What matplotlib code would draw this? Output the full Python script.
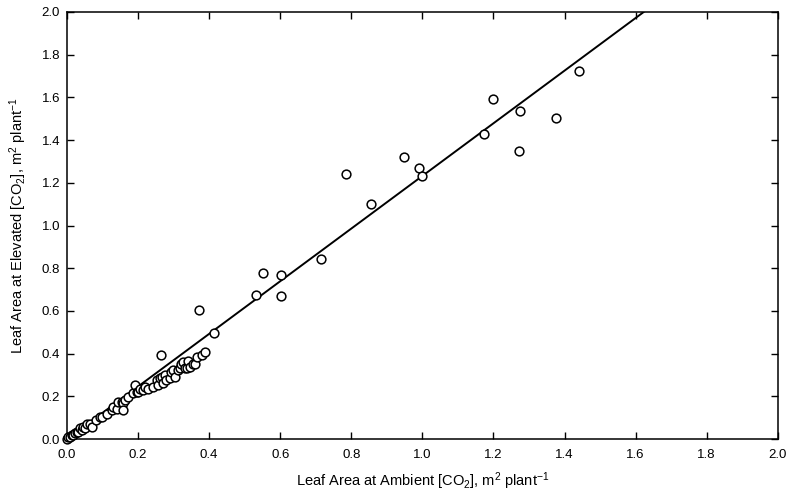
import matplotlib
matplotlib.use("Agg")
import matplotlib.pyplot as plt
import numpy as np

plt.rcParams.update(
    {
        "font.family": ["Liberation Sans", "DejaVu Sans"],
        "font.size": 9,
        "mathtext.default": "regular",
    }
)

# leaf area, ambient vs elevated CO2 (m2 per plant)
ambient = [
    0.000, 0.004, 0.008, 0.013, 0.018, 0.023, 0.027, 0.032, 0.037, 0.041,
    0.046, 0.051, 0.055, 0.065, 0.069, 0.083, 0.093, 0.098, 0.112, 0.126,
    0.130, 0.140, 0.144, 0.154, 0.158, 0.158, 0.163, 0.172, 0.187, 0.191,
    0.196, 0.201, 0.205, 0.215, 0.219, 0.229, 0.243, 0.252, 0.257, 0.262,
    0.266, 0.271, 0.276, 0.280, 0.290, 0.294, 0.299, 0.304, 0.313, 0.318,
    0.322, 0.327, 0.332, 0.337, 0.341, 0.346, 0.355, 0.360, 0.365, 0.379,
    0.388, 0.264, 0.371, 0.413, 0.532, 0.551, 0.602, 0.602, 0.714, 0.785,
    0.855, 0.948, 0.990, 0.999, 1.173, 1.198, 1.271, 1.274, 1.375, 1.440,
]
elevated = [
    0.003, 0.011, 0.011, 0.019, 0.019, 0.027, 0.034, 0.034, 0.050, 0.042,
    0.058, 0.050, 0.073, 0.073, 0.058, 0.089, 0.104, 0.104, 0.120, 0.136,
    0.151, 0.143, 0.175, 0.175, 0.167, 0.136, 0.183, 0.198, 0.214, 0.253,
    0.222, 0.222, 0.237, 0.229, 0.245, 0.237, 0.245, 0.276, 0.253, 0.284,
    0.292, 0.261, 0.300, 0.276, 0.284, 0.315, 0.323, 0.292, 0.323, 0.331,
    0.354, 0.362, 0.331, 0.331, 0.367, 0.339, 0.354, 0.351, 0.386, 0.393,
    0.409, 0.393, 0.604, 0.497, 0.674, 0.777, 0.768, 0.670, 0.843, 1.241,
    1.101, 1.321, 1.269, 1.232, 1.429, 1.592, 1.349, 1.536, 1.503, 1.725,
]

# fitted regression line through the origin
slope = 1.232
fit_x = np.array([0.0, 2.0])

fig = plt.figure(figsize=(7.88, 4.94), dpi=100)
ax = fig.add_axes([0.085, 0.111, 0.902, 0.865])

ax.plot(fit_x, slope * fit_x, color="black", lw=1.4, zorder=2)
ax.plot(ambient, elevated, "o", ms=6.3, mfc="white", mec="black", mew=1.1,
        zorder=3, clip_on=False)

ax.set_xlim(0, 2.0)
ax.set_ylim(0, 2.0)
ticks = np.arange(0, 2.01, 0.2)
ax.set_xticks(ticks)
ax.set_yticks(ticks)
ax.xaxis.set_major_formatter(matplotlib.ticker.FormatStrFormatter("%.1f"))
ax.yaxis.set_major_formatter(matplotlib.ticker.FormatStrFormatter("%.1f"))
ax.tick_params(direction="in", length=5, width=1, top=True, right=True,
               labelsize=9.5)
ax.tick_params(axis="x", pad=7)
ax.tick_params(axis="y", pad=5)
for s in ax.spines.values():
    s.set_linewidth(1.1)

ax.set_xlabel("Leaf Area at Ambient [CO$_2$], m$^2$ plant$^{-1}$", fontsize=10.5, labelpad=7)
ax.set_ylabel("Leaf Area at Elevated [CO$_2$], m$^2$ plant$^{-1}$", fontsize=10.5, labelpad=9)

fig.savefig("out.png", dpi=100)
